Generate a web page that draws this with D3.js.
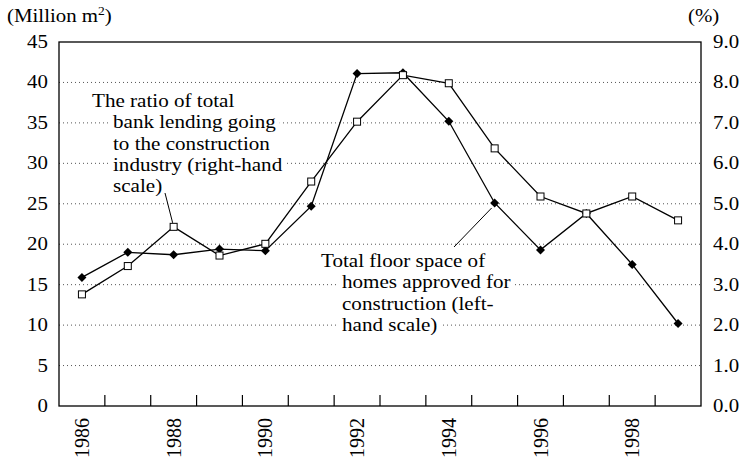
<!DOCTYPE html>
<html>
<head>
<meta charset="utf-8">
<script src="https://cdn.jsdelivr.net/npm/d3@7"></script>
<style>
  body { margin: 0; background: #fff; }
</style>
</head>
<body>
<svg id="chart" width="743" height="460"></svg>
<script>
// --- data ---
const years = [1986, 1987, 1988, 1989, 1990, 1991, 1992, 1993, 1994, 1995, 1996, 1997, 1998, 1999];
// total floor space of homes approved for construction (million m2, left scale)
const floorSpace = [15.9, 19.0, 18.7, 19.4, 19.2, 24.7, 41.1, 41.2, 35.2, 25.1, 19.3, 23.8, 17.5, 10.2];
// ratio of bank lending going to construction (%, right scale)
const lendingRatio = [2.76, 3.46, 4.43, 3.72, 4.01, 5.55, 7.03, 8.18, 7.98, 6.37, 5.18, 4.76, 5.18, 4.59];
const leftTicks = [0, 5, 10, 15, 20, 25, 30, 35, 40, 45];
const rightTicks = [0, 1, 2, 3, 4, 5, 6, 7, 8, 9];
const yearLabels = [1986, 1988, 1990, 1992, 1994, 1996, 1998];

const svg = d3.select("#chart").style("font-family", "Liberation Serif");
const margin = { left: 59, right: 42, top: 42, bottom: 54 };
const width = 743, height = 460;
const x0 = margin.left, x1 = width - margin.right;
const y0 = height - margin.bottom, y1 = margin.top;
const fs = 18.5;
const sx = 1.13; // the reference type is a little wider than Liberation Serif

const x = d3.scaleBand().domain(years).range([x0, x1]);
const yL = d3.scaleLinear().domain([0, 45]).range([y0, y1]);
const yR = d3.scaleLinear().domain([0, 9]).range([y0, y1]);
const cx = d => x(d) + x.bandwidth() / 2;
const at = (px, py, k = sx) => `translate(${px},${py}) scale(${k},1)`;

// dotted gridlines
svg.append("g").selectAll("line")
  .data(leftTicks.filter(t => t > 0 && t < 45))
  .join("line")
  .attr("x1", x0).attr("x2", x1)
  .attr("y1", d => yL(d)).attr("y2", d => yL(d))
  .attr("stroke", "#555").attr("stroke-width", 1)
  .attr("stroke-dasharray", "1,3");

// frame
svg.append("rect")
  .attr("x", x0).attr("y", y1)
  .attr("width", x1 - x0).attr("height", y0 - y1)
  .attr("fill", "none").attr("stroke", "#000").attr("stroke-width", 1.3);

// left axis labels
svg.append("g").selectAll("text")
  .data(leftTicks).join("text")
  .attr("transform", d => at(x0 - 11, yL(d) + 6))
  .attr("text-anchor", "end").attr("font-size", fs)
  .text(d => d);

// right axis labels
svg.append("g").selectAll("text")
  .data(rightTicks).join("text")
  .attr("transform", d => at(x1 + 12, yR(d) + 6))
  .attr("font-size", fs)
  .text(d => d3.format(".1f")(d));

// bottom ticks between categories (pointing inward)
svg.append("g").selectAll("line")
  .data(years.slice(1)).join("line")
  .attr("x1", d => x(d)).attr("x2", d => x(d))
  .attr("y1", y0).attr("y2", y0 - 11)
  .attr("stroke", "#000").attr("stroke-width", 1.2);

// year labels rotated
svg.append("g").selectAll("text")
  .data(yearLabels).join("text")
  .attr("transform", d => `translate(${cx(d) + 7},${y0 + 12}) rotate(-90)`)
  .attr("text-anchor", "end").attr("font-size", 20)
  .text(d => d);

// axis titles
const tl = svg.append("text").attr("transform", at(7, 22)).attr("font-size", fs);
tl.append("tspan").text("(Million m");
tl.append("tspan").attr("font-size", 12).attr("dy", -7).text("2");
tl.append("tspan").attr("dy", 7).text(")");
svg.append("text").attr("transform", at(688, 22)).attr("font-size", fs).text("(%)");

// annotations with white backing
function note(lines, xFirst, xRest, yBase) {
  const g = svg.append("g");
  lines.forEach((s, i) => {
    const tx = i === 0 ? xFirst : xRest;
    const ty = yBase + i * 21.3;
    const bg = g.append("rect").attr("fill", "#fff");
    const t = g.append("text").attr("transform", at(tx, ty, 1.11)).attr("font-size", 19).text(s);
    const w = t.node().getComputedTextLength() * 1.11;
    bg.attr("x", tx - 4).attr("y", ty - 15).attr("width", w + 8).attr("height", 20);
  });
}
note(["The ratio of total", "bank lending going", "to the construction", "industry (right-hand", "scale)"], 92, 113, 107);
note(["Total floor space of", "homes approved for", "construction (left-", "hand scale)"], 321, 342, 267);

// leader lines
svg.append("line").attr("x1", 165).attr("y1", 193).attr("x2", cx(1988) - 1).attr("y2", yR(lendingRatio[2]) - 4)
  .attr("stroke", "#000").attr("stroke-width", 1);
svg.append("line").attr("x1", 454).attr("y1", 247).attr("x2", cx(1995) - 3).attr("y2", yL(floorSpace[9]) + 5)
  .attr("stroke", "#000").attr("stroke-width", 1);

// series lines
const lineL = d3.line().x((d, i) => cx(years[i])).y(d => yL(d));
const lineR = d3.line().x((d, i) => cx(years[i])).y(d => yR(d));
svg.append("path").datum(floorSpace).attr("d", lineL)
  .attr("fill", "none").attr("stroke", "#000").attr("stroke-width", 1.3);
svg.append("path").datum(lendingRatio).attr("d", lineR)
  .attr("fill", "none").attr("stroke", "#000").attr("stroke-width", 1.3);

// diamond markers
svg.append("g").selectAll("path")
  .data(floorSpace).join("path")
  .attr("transform", (d, i) => `translate(${cx(years[i])},${yL(d)})`)
  .attr("d", "M0,-4.5L4.5,0L0,4.5L-4.5,0Z")
  .attr("fill", "#000");

// square markers
svg.append("g").selectAll("rect")
  .data(lendingRatio).join("rect")
  .attr("x", (d, i) => cx(years[i]) - 3.5).attr("y", d => yR(d) - 3.5)
  .attr("width", 7).attr("height", 7)
  .attr("fill", "#fff").attr("stroke", "#000").attr("stroke-width", 1);
</script>
</body>
</html>
